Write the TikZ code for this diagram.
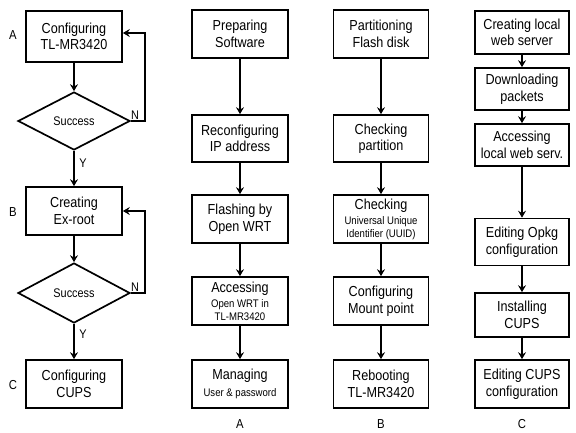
\documentclass[tikz,border=0pt]{standalone}
\usepackage{fontspec}
\setmainfont{Liberation Sans}[FakeStretch=0.87]
\usetikzlibrary{arrows.meta,shapes.geometric}
\begin{document}
\begin{tikzpicture}[x=1pt,y=-1pt,
  box/.style={draw,line width=1.7pt,inner sep=0pt,align=center,font=\fontsize{14.5}{16.5}\selectfont},
  dia/.style={draw,line width=1.7pt,shape=diamond,inner sep=0pt,minimum width=112pt,minimum height=58pt,font=\fontsize{12.5}{14}\selectfont},
  arr/.style={line width=1.7pt,-{Stealth[length=7pt,width=8pt,inset=2.5pt]}},
  lbl/.style={font=\fontsize{13}{15}\selectfont,inner sep=0pt},
  yn/.style={font=\fontsize{12.5}{14}\selectfont,inner sep=0pt}]
\newcommand\smalltext{\fontsize{11}{12.5}\selectfont}
\useasboundingbox (0,0) rectangle (576,432);
% Column 1
\node[box,minimum width=96pt,minimum height=51pt] (a1) at (74,36.5) {Configuring\\TL-MR3420};
\node[dia] (d1) at (74,121) {Success};
\node[box,minimum width=96pt,minimum height=48pt] (b1) at (74,211) {Creating\\Ex-root};
\node[dia,minimum height=60pt] (d2) at (74,293) {Success};
\node[box,minimum width=96pt,minimum height=48pt] (c1) at (74,384) {Configuring\\CUPS};
\node[lbl] (la) at (13,35) {A};
\node[lbl] (lb) at (13,212) {B};
\node[lbl] (lc) at (13,385) {C};
\node[yn] (n1) at (135,115) {N};
\node[yn] (n2) at (135,287) {N};
\node[yn] (y1) at (83,163) {Y};
\node[yn] (y2) at (83,334) {Y};
\coordinate (f1) at (145,33);
\coordinate (f2) at (145,211);
\draw[arr] (a1) -- (d1);
\draw[arr] (d1) -- (b1);
\draw[arr] (b1) -- (d2);
\draw[arr] (d2) -- (c1);
\draw[arr] (d1.east) -| (f1) -- (f1 -| a1.east);
\draw[arr] (d2.east) -| (f2) -- (f2 -| b1.east);
% Column 2
\node[box,minimum width=96pt,minimum height=48pt] (p1) at (240,34) {Preparing\\Software};
\node[box,minimum width=96pt,minimum height=47pt] (p2) at (240,138.5) {Reconfiguring\\IP address};
\node[box,minimum width=96pt,minimum height=48pt] (p3) at (240,219) {Flashing by\\Open WRT};
\node[box,minimum width=96pt,minimum height=48pt] (p4) at (240,301) {Accessing\\[-1pt]\smalltext Open WRT in\\[-4pt]\smalltext TL-MR3420};
\node[box,minimum width=96pt,minimum height=48pt] (p5) at (240,384) {Managing\\\smalltext User \& password};
\node[lbl] (lA) at (240,424) {A};
\draw[arr] (p1) -- (p2);
\draw[arr] (p2) -- (p3);
\draw[arr] (p3) -- (p4);
\draw[arr] (p4) -- (p5);
% Column 3
\node[box,minimum width=95pt,minimum height=48pt] (q1) at (381,34) {Partitioning\\Flash disk};
\node[box,minimum width=95pt,minimum height=47pt] (q2) at (381,138.5) {Checking\\partition};
\node[box,minimum width=95pt,minimum height=48pt] (q3) at (381,219) {Checking\\[-1pt]\smalltext Universal Unique\\[-4pt]\smalltext Identifier (UUID)};
\node[box,minimum width=95pt,minimum height=48pt] (q4) at (381,301) {Configuring\\Mount point};
\node[box,minimum width=95pt,minimum height=48pt] (q5) at (381,384) {Rebooting\\TL-MR3420};
\node[lbl] (lB) at (381,424) {B};
\draw[arr] (q1) -- (q2);
\draw[arr] (q2) -- (q3);
\draw[arr] (q3) -- (q4);
\draw[arr] (q4) -- (q5);
% Column 4
\node[box,minimum width=94pt,minimum height=43pt] (r1) at (522,32.5) {Creating local\\web server};
\node[box,minimum width=94pt,minimum height=42pt] (r2) at (522,89) {Downloading\\packets};
\node[box,minimum width=94pt,minimum height=42pt] (r3) at (522,145) {Accessing\\local web serv.};
\node[box,minimum width=94pt,minimum height=47pt] (r4) at (522,242) {Editing Opkg\\configuration};
\node[box,minimum width=94pt,minimum height=44pt] (r5) at (522,315) {Installing\\CUPS};
\node[box,minimum width=94pt,minimum height=48pt] (r6) at (522,384) {Editing CUPS\\configuration};
\node[lbl] (lC) at (522,424) {C};
\draw[arr] (r1) -- (r2);
\draw[arr] (r2) -- (r3);
\draw[arr] (r3) -- (r4);
\draw[arr] (r4) -- (r5);
\draw[arr] (r5) -- (r6);
\end{tikzpicture}
\end{document}
